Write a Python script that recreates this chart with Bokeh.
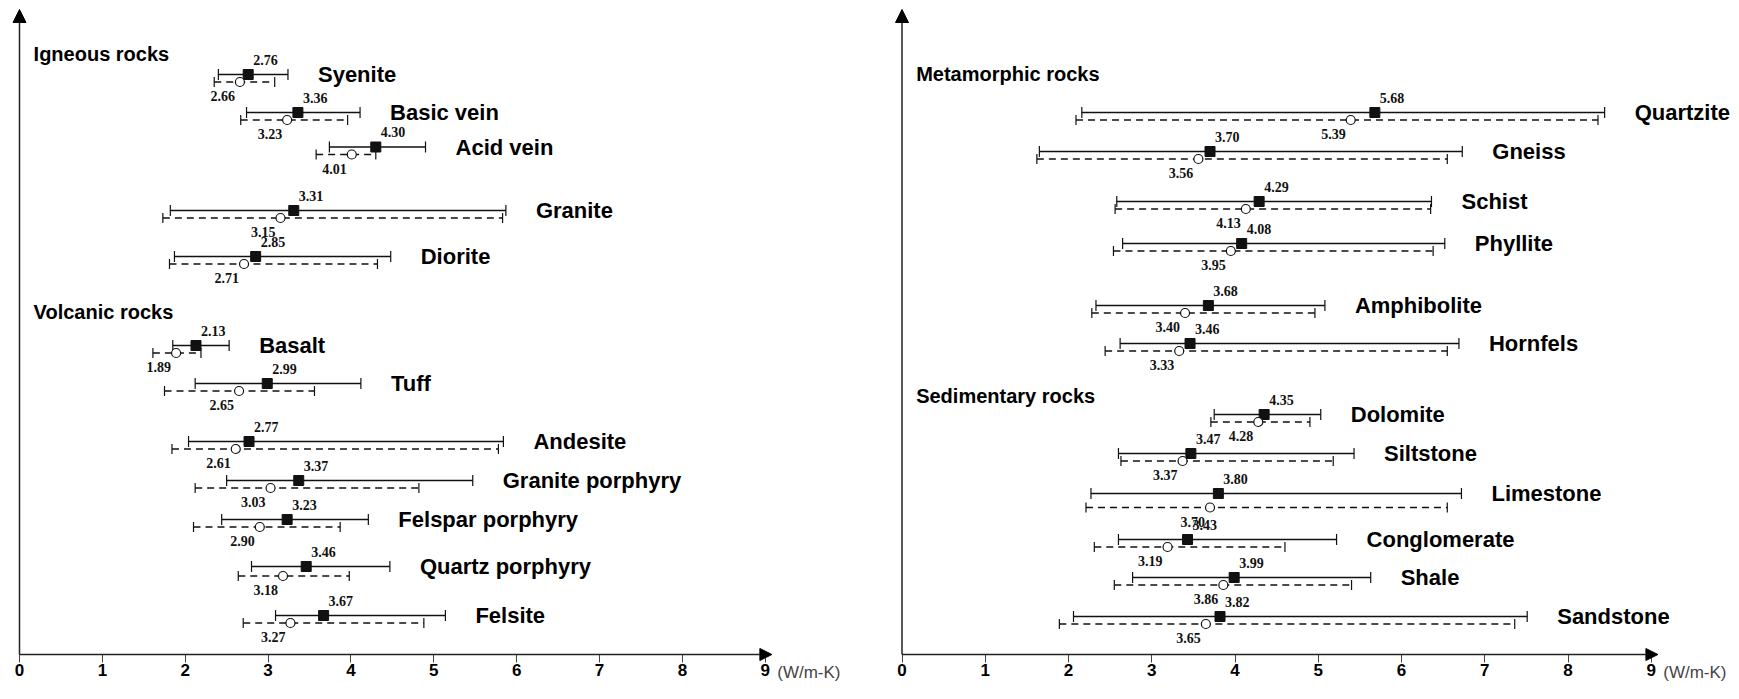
from bokeh.plotting import figure
from bokeh.layouts import row
from bokeh.models import (Range1d, ColumnDataSource, FixedTicker, Arrow,
                          NormalHead, Label, Whisker, TeeHead)
from bokeh.core.properties import value
from bokeh.embed import file_html
from bokeh.resources import INLINE

# ---------------- data: thermal conductivity (W/m-K) ----------------
# filled square = mean of the solid series, open circle = mean of the dashed series
# *_lo / *_hi are the ends of each range bar

# igneous and volcanic rocks
left_groups = ["Igneous rocks", "Volcanic rocks"]
left_names = ["Syenite", "Basic vein", "Acid vein", "Granite", "Diorite",
              "Basalt", "Tuff", "Andesite", "Granite porphyry",
              "Felspar porphyry", "Quartz porphyry", "Felsite"]
left_fill_mean = [2.76, 3.36, 4.30, 3.31, 2.85, 2.13, 2.99, 2.77, 3.37, 3.23, 3.46, 3.67]
left_fill_lo = [2.40, 2.74, 3.74, 1.82, 1.87, 1.85, 2.12, 2.04, 2.50, 2.44, 2.80, 3.09]
left_fill_hi = [3.24, 4.11, 4.90, 5.87, 4.48, 2.53, 4.12, 5.84, 5.47, 4.21, 4.47, 5.14]
left_open_mean = [2.66, 3.23, 4.01, 3.15, 2.71, 1.89, 2.65, 2.61, 3.03, 2.90, 3.18, 3.27]
left_open_lo = [2.35, 2.67, 3.58, 1.73, 1.81, 1.61, 1.75, 1.84, 2.12, 2.10, 2.64, 2.70]
left_open_hi = [3.08, 3.96, 4.30, 5.83, 4.32, 2.19, 3.56, 5.78, 4.82, 3.87, 3.98, 4.88]

# metamorphic and sedimentary rocks
right_groups = ["Metamorphic rocks", "Sedimentary rocks"]
right_names = ["Quartzite", "Gneiss", "Schist", "Phyllite", "Amphibolite",
               "Hornfels", "Dolomite", "Siltstone", "Limestone",
               "Conglomerate", "Shale", "Sandstone"]
right_fill_mean = [5.68, 3.70, 4.29, 4.08, 3.68, 3.46, 4.35, 3.47, 3.80, 3.43, 3.99, 3.82]
right_fill_lo = [2.16, 1.65, 2.58, 2.65, 2.33, 2.62, 3.75, 2.60, 2.27, 2.60, 2.77, 2.06]
right_fill_hi = [8.44, 6.73, 6.36, 6.52, 5.08, 6.69, 5.03, 5.43, 6.72, 5.22, 5.63, 7.51]
right_open_mean = [5.39, 3.56, 4.13, 3.95, 3.40, 3.33, 4.28, 3.37, 3.70, 3.19, 3.86, 3.65]
right_open_lo = [2.09, 1.62, 2.56, 2.54, 2.28, 2.44, 3.71, 2.63, 2.21, 2.31, 2.55, 1.89]
right_open_hi = [8.36, 6.55, 6.35, 6.38, 4.96, 6.55, 4.90, 5.18, 6.55, 4.60, 5.40, 7.36]

x_ticks = [0, 1, 2, 3, 4, 5, 6, 7, 8, 9]
unit_text = "(W/m-K)"

# ---------------- layout (vertical placement in px from the top) ----------------
AXIS_Y = 654
left_row_y = [74, 112, 146.5, 210, 256, 345, 383, 441, 480, 519, 566, 615]
left_gap = [7.5, 7.5, 7.5, 7.5, 7.5, 7.5, 7.5, 7.5, 7.5, 7.5, 9.5, 7.5]
left_group_y = [53, 311]
right_row_y = [112, 151, 201, 243, 305, 343, 414, 453, 493, 539, 577, 616]
right_gap = [7.5, 7.5, 7.5, 7.5, 7.5, 7.5, 7.5, 7.5, 14, 7.5, 7.5, 7.5]
right_group_y = [73, 395]

INK = "#111111"
SANS = "Liberation Sans"
SERIF = "Liberation Serif"


def build_panel(width, origin_px, unit_px, groups, group_y, names,
                fm, flo, fhi, om, olo, ohi, row_y, gap):
    # the frame fills the whole canvas; x = 0 sits origin_px from the left
    x0 = -origin_px / unit_px
    p = figure(width=width, height=699,
               x_range=Range1d(x0, x0 + width / unit_px),
               y_range=Range1d(699, 0),
               min_border_left=0, min_border_right=0,
               min_border_top=0, min_border_bottom=0,
               y_axis_location=None, toolbar_location=None,
               output_backend="svg")
    p.outline_line_color = None
    p.grid.visible = False
    p.background_fill_color = "white"
    p.border_fill_color = "white"

    y_dash = [y + g for y, g in zip(row_y, gap)]
    src = ColumnDataSource(dict(
        name=names, y=row_y, yd=y_dash,
        fm=fm, flo=flo, fhi=fhi, om=om, olo=olo, ohi=ohi,
        flab=[f"{v:.2f}" for v in fm], olab=[f"{v:.2f}" for v in om],
        yf_lab=[y - 15 for y in row_y], yo_lab=[y + 14 for y in y_dash],
    ))

    # range bars with end caps
    solid = Whisker(source=src, base="y", lower="flo", upper="fhi",
                    dimension="width", line_color=INK, line_width=1.4,
                    lower_head=TeeHead(size=11, line_color=INK, line_width=1.2),
                    upper_head=TeeHead(size=11, line_color=INK, line_width=1.2),
                    level="underlay")
    dashed = Whisker(source=src, base="yd", lower="olo", upper="ohi",
                     dimension="width", line_color=INK, line_width=1.3,
                     line_dash="7 5",
                     lower_head=TeeHead(size=10, line_color=INK, line_width=1.2),
                     upper_head=TeeHead(size=10, line_color=INK, line_width=1.2),
                     level="underlay")
    p.add_layout(solid)
    p.add_layout(dashed)

    # means
    p.scatter(x="fm", y="y", source=src, marker="square", size=10,
              fill_color=INK, line_color=INK)
    p.scatter(x="om", y="yd", source=src, marker="circle", size=9,
              fill_color="white", line_color=INK, line_width=1.2)

    # value labels
    p.text(x="fm", y="yf_lab", text="flab", source=src, x_offset=5,
           text_align="left", text_baseline="middle",
           text_font=value(SERIF), text_font_style="bold",
           text_font_size="14px", text_color=INK)
    p.text(x="om", y="yo_lab", text="olab", source=src, x_offset=-5,
           text_align="right", text_baseline="middle",
           text_font=value(SERIF), text_font_style="bold",
           text_font_size="14px", text_color=INK)

    # rock names, right of each solid bar
    p.text(x="fhi", y="y", text="name", source=src, x_offset=30,
           text_align="left", text_baseline="middle",
           text_font=value(SANS), text_font_style="bold",
           text_font_size="22px", text_color="black")

    # group headings
    p.text(x=[0.17] * len(groups), y=group_y, text=groups,
           text_align="left", text_baseline="middle",
           text_font=value(SANS), text_font_style="bold",
           text_font_size="20px", text_color="black")

    # axis lines with arrow heads
    p.add_layout(Arrow(x_start=0, y_start=AXIS_Y, x_end=0, y_end=9,
                       line_color="#222222", line_width=1.5,
                       end=NormalHead(size=13, fill_color="black",
                                      line_color="black", line_width=1)))
    p.add_layout(Arrow(x_start=0, y_start=AXIS_Y, x_end=9.08, y_end=AXIS_Y,
                       line_color="#222222", line_width=1.5,
                       end=NormalHead(size=12, fill_color="black",
                                      line_color="black", line_width=1)))

    # ticks and tick labels from the library's own axis, pinned to the axis line
    xa = p.xaxis[0]
    xa.fixed_location = AXIS_Y
    xa.ticker = FixedTicker(ticks=x_ticks)
    xa.axis_line_color = None
    xa.major_tick_in = 0
    xa.major_tick_out = 8
    xa.major_tick_line_color = "#444444"
    xa.major_tick_line_width = 1
    xa.minor_tick_line_color = None
    xa.major_label_standoff = 1
    xa.major_label_text_font = SANS
    xa.major_label_text_font_style = "bold"
    xa.major_label_text_font_size = "17px"
    xa.major_label_text_color = "black"

    p.add_layout(Label(x=9, y=AXIS_Y, x_offset=12, y_offset=-18,
                       text=unit_text, text_baseline="middle",
                       text_align="left", text_font=SANS,
                       text_font_size="17px", text_color="#444444"))
    return p


left = build_panel(870, 19, 82.86, left_groups, left_group_y, left_names,
                   left_fill_mean, left_fill_lo, left_fill_hi,
                   left_open_mean, left_open_lo, left_open_hi,
                   left_row_y, left_gap)
right = build_panel(869, 31.5, 83.25, right_groups, right_group_y, right_names,
                    right_fill_mean, right_fill_lo, right_fill_hi,
                    right_open_mean, right_open_lo, right_open_hi,
                    right_row_y, right_gap)

page = row(left, right, spacing=0)
open("out.html", "w").write(file_html(page, INLINE))
